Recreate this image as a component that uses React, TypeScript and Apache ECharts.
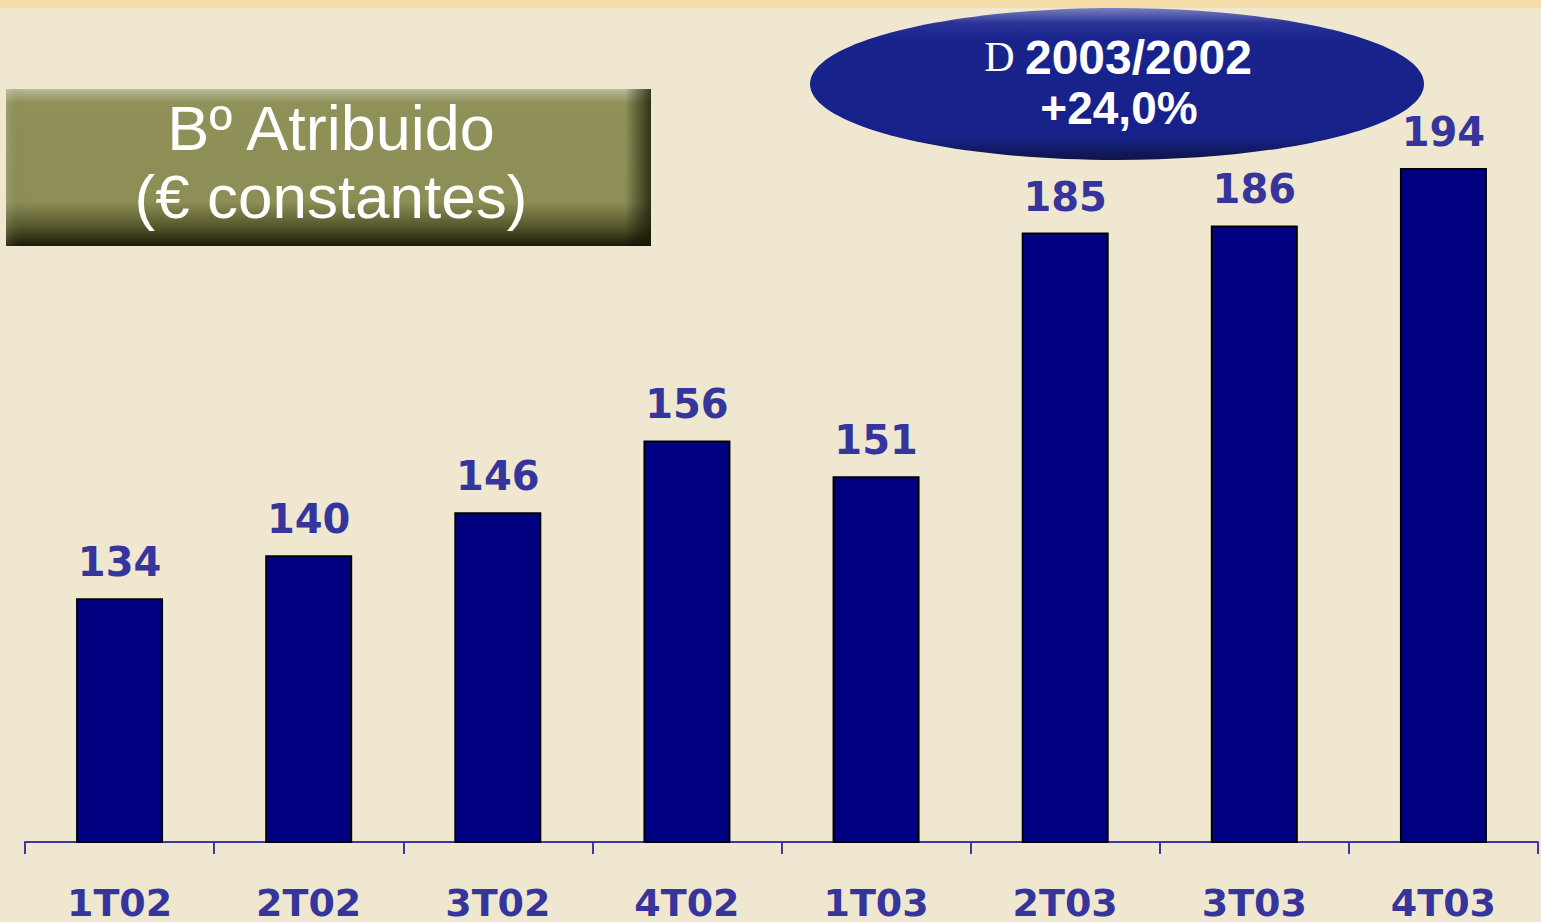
import React, { useEffect, useRef } from "react";
import * as echarts from "echarts";

const categories = ["1T02", "2T02", "3T02", "4T02", "1T03", "2T03", "3T03", "4T03"];
const values = [134, 140, 146, 156, 151, 185, 186, 194];
const titleLines = ["Bº Atribuido", "(€ constantes)"];
const deltaLabel = "2003/2002";
const deltaValue = "+24,0%";

export default function App() {
  const ref = useRef<HTMLDivElement>(null);
  useEffect(() => {
    if (!ref.current) return;
    const chart = echarts.init(ref.current, undefined, { renderer: "svg" });
    const labelColor = "#35359C";
    chart.setOption({
      animation: false,
      backgroundColor: "#F0E7D0",
      grid: { left: 25, right: 3, top: 125, bottom: 80, containLabel: false },
      xAxis: {
        type: "category",
        data: categories,
        axisLine: { show: true, lineStyle: { color: "#3A3A9A", width: 2 } },
        axisTick: { show: true, length: 12, lineStyle: { color: "#3A3A9A", width: 2 } },
        axisLabel: {
          color: labelColor,
          fontSize: 38,
          lineHeight: 34,
          fontWeight: "bold",
          fontFamily: "DejaVu Sans",
          margin: 44,
          interval: 0,
        },
      },
      yAxis: {
        type: "value",
        min: 100,
        max: 200,
        show: false,
        splitLine: { show: false },
      },
      series: [
        {
          type: "bar",
          data: values,
          barWidth: "46%",
          itemStyle: { color: "#000080", borderColor: "#000000", borderWidth: 2 },
          label: {
            show: true,
            position: "top",
            distance: 16,
            color: labelColor,
            fontSize: 40,
            fontWeight: "bold",
            fontFamily: "DejaVu Sans",
          },
        },
      ],
      graphic: [
        {
          type: "rect",
          shape: { x: 0, y: 0, width: 1541, height: 8 },
          style: { fill: "#F5DDAA" },
          z: 10,
        },
        {
          type: "rect",
          shape: { x: 6, y: 89, width: 645, height: 157 },
          style: {
            fill: new echarts.graphic.LinearGradient(0, 0, 0, 1, [
              { offset: 0, color: "#B9BB9A" },
              { offset: 0.09, color: "#8F9158" },
              { offset: 0.72, color: "#8C8E55" },
              { offset: 0.88, color: "#55552C" },
              { offset: 1, color: "#1A1A08" },
            ]),
          },
          z: 10,
        },
        {
          type: "rect",
          shape: { x: 6, y: 89, width: 645, height: 157 },
          style: {
            fill: new echarts.graphic.LinearGradient(0, 0, 1, 0, [
              { offset: 0, color: "rgba(255,255,255,0.12)" },
              { offset: 0.03, color: "rgba(0,0,0,0)" },
              { offset: 0.96, color: "rgba(0,0,0,0)" },
              { offset: 1, color: "rgba(20,20,0,0.75)" },
            ]),
          },
          z: 11,
        },
        {
          type: "text",
          z: 12,
          style: {
            text: titleLines[0],
            x: 331,
            y: 128,
            align: "center",
            verticalAlign: "middle",
            fontFamily: "Liberation Sans",
            fontSize: 63,
            fill: "#FFFFFF",
            textShadowColor: "rgba(60,60,40,0.8)",
            textShadowOffsetX: 2,
            textShadowOffsetY: 2,
          },
        },
        {
          type: "text",
          z: 12,
          style: {
            text: titleLines[1],
            x: 331,
            y: 196,
            align: "center",
            verticalAlign: "middle",
            fontFamily: "Liberation Sans",
            fontSize: 62,
            fill: "#FFFFFF",
            textShadowColor: "rgba(60,60,40,0.8)",
            textShadowOffsetX: 2,
            textShadowOffsetY: 2,
          },
        },
        {
          type: "ellipse",
          z: 10,
          shape: { cx: 1117, cy: 84, rx: 307, ry: 76 },
          style: {
            fill: new echarts.graphic.LinearGradient(0, 0, 0, 1, [
              { offset: 0, color: "#7A80C0" },
              { offset: 0.1, color: "#2A3396" },
              { offset: 0.2, color: "#18248C" },
              { offset: 0.85, color: "#16228A" },
              { offset: 1, color: "#0E1448" },
            ]),
          },
        },
        {
          type: "text",
          z: 12,
          style: {
            text: "{d|D }{n|" + deltaLabel + "}",
            x: 1118,
            y: 57,
            align: "center",
            verticalAlign: "middle",
            rich: {
              d: { fontFamily: "Liberation Serif", fontSize: 42, fill: "#FFFFFF" },
              n: { fontFamily: "Liberation Sans", fontWeight: "bold", fontSize: 48, fill: "#FFFFFF" },
            },
          },
        },
        {
          type: "text",
          z: 12,
          style: {
            text: deltaValue,
            x: 1119,
            y: 108,
            align: "center",
            verticalAlign: "middle",
            fontFamily: "Liberation Sans",
            fontWeight: "bold",
            fontSize: 46,
            fill: "#FFFFFF",
          },
        },
      ],
    });
    return () => chart.dispose();
  }, []);
  return (
    <div
      ref={ref}
      style={{ position: "fixed", left: 0, top: 0, width: 1541, height: 922 }}
    />
  );
}
